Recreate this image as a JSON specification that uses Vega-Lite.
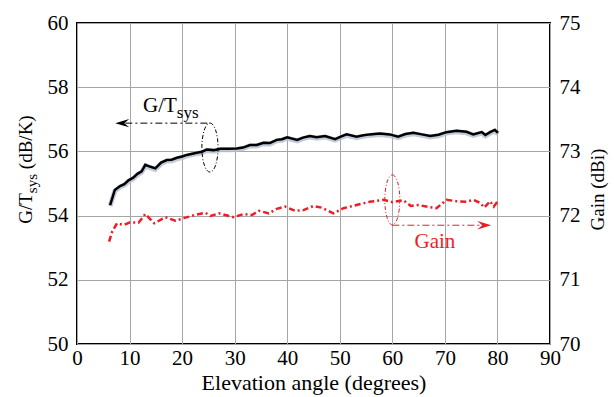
{
  "$schema": "https://vega.github.io/schema/vega-lite/v6.json",
  "width": 473,
  "height": 321,
  "autosize": "none",
  "padding": {"left": 77, "top": 23, "right": 64, "bottom": 53},
  "background": "white",
  "config": {
    "view": {"stroke": "black", "strokeWidth": 2},
    "font": "Liberation Serif",
    "axis": {"labelFont": "Liberation Serif", "titleFont": "Liberation Serif", "labelColor": "black", "titleColor": "black", "titleFontWeight": "normal", "gridColor": "#a6a6a6", "gridWidth": 1, "gridOpacity": 1}
  },
  "datasets": {
    "gt": [
      {"x": 6.3, "v": 54.33}, {"x": 7.2, "v": 54.8}, {"x": 8.2, "v": 54.92}, {"x": 9.0, "v": 54.98}, {"x": 9.8, "v": 55.1},
      {"x": 10.7, "v": 55.18}, {"x": 11.5, "v": 55.3}, {"x": 12.3, "v": 55.38}, {"x": 13.0, "v": 55.58}, {"x": 14.0, "v": 55.52},
      {"x": 14.9, "v": 55.47}, {"x": 16.0, "v": 55.65}, {"x": 17.1, "v": 55.73}, {"x": 18.0, "v": 55.74}, {"x": 19.0, "v": 55.8},
      {"x": 20.0, "v": 55.84}, {"x": 20.9, "v": 55.89}, {"x": 22.8, "v": 55.96}, {"x": 23.8, "v": 55.99}, {"x": 24.7, "v": 56.06},
      {"x": 26.0, "v": 56.04}, {"x": 27.3, "v": 56.08}, {"x": 28.8, "v": 56.08}, {"x": 30.4, "v": 56.09}, {"x": 31.6, "v": 56.12},
      {"x": 32.9, "v": 56.2}, {"x": 34.2, "v": 56.2}, {"x": 35.5, "v": 56.27}, {"x": 36.7, "v": 56.26}, {"x": 38.0, "v": 56.36},
      {"x": 39.0, "v": 56.38}, {"x": 40.0, "v": 56.44}, {"x": 41.9, "v": 56.36}, {"x": 43.0, "v": 56.43}, {"x": 44.3, "v": 56.48},
      {"x": 45.6, "v": 56.44}, {"x": 47.2, "v": 56.48}, {"x": 49.1, "v": 56.38}, {"x": 50.2, "v": 56.46}, {"x": 51.3, "v": 56.53},
      {"x": 53.2, "v": 56.46}, {"x": 54.5, "v": 56.5}, {"x": 55.7, "v": 56.53}, {"x": 57.6, "v": 56.56}, {"x": 59.5, "v": 56.53},
      {"x": 61.1, "v": 56.46}, {"x": 62.5, "v": 56.54}, {"x": 64.0, "v": 56.58}, {"x": 65.6, "v": 56.53}, {"x": 67.2, "v": 56.48},
      {"x": 68.8, "v": 56.52}, {"x": 70.3, "v": 56.6}, {"x": 72.2, "v": 56.64}, {"x": 74.1, "v": 56.61}, {"x": 75.4, "v": 56.53},
      {"x": 77.0, "v": 56.6}, {"x": 77.7, "v": 56.51}, {"x": 78.6, "v": 56.6}, {"x": 79.5, "v": 56.67}, {"x": 80.1, "v": 56.58}
    ],
    "gain": [
      {"x": 6.1, "g": 71.595}, {"x": 6.7, "g": 71.75}, {"x": 7.6, "g": 71.88}, {"x": 8.9, "g": 71.855}, {"x": 10.1, "g": 71.895},
      {"x": 11.7, "g": 71.89}, {"x": 13.0, "g": 72.025}, {"x": 14.7, "g": 71.88}, {"x": 16.8, "g": 71.975}, {"x": 18.7, "g": 71.92},
      {"x": 20.3, "g": 71.96}, {"x": 22.5, "g": 72.01}, {"x": 24.4, "g": 72.045}, {"x": 25.4, "g": 71.995}, {"x": 27.0, "g": 72.035},
      {"x": 29.8, "g": 71.975}, {"x": 31.7, "g": 72.025}, {"x": 33.3, "g": 72.01}, {"x": 34.6, "g": 72.075}, {"x": 36.5, "g": 72.035},
      {"x": 38.0, "g": 72.105}, {"x": 39.6, "g": 72.14}, {"x": 41.5, "g": 72.075}, {"x": 43.1, "g": 72.085}, {"x": 45.0, "g": 72.15},
      {"x": 46.5, "g": 72.125}, {"x": 48.8, "g": 72.035}, {"x": 50.7, "g": 72.115}, {"x": 53.2, "g": 72.165}, {"x": 55.7, "g": 72.215},
      {"x": 58.3, "g": 72.245}, {"x": 60.0, "g": 72.21}, {"x": 62.1, "g": 72.24}, {"x": 63.5, "g": 72.15}, {"x": 65.0, "g": 72.165},
      {"x": 66.8, "g": 72.135}, {"x": 68.4, "g": 72.115}, {"x": 70.3, "g": 72.245}, {"x": 72.2, "g": 72.225}, {"x": 74.1, "g": 72.215},
      {"x": 75.4, "g": 72.245}, {"x": 76.7, "g": 72.2}, {"x": 77.5, "g": 72.125}, {"x": 78.6, "g": 72.225}, {"x": 79.3, "g": 72.14},
      {"x": 80.0, "g": 72.215}
    ]
  },
  "layer": [
    {
      "layer": [
        {
          "data": {"name": "gt"},
          "mark": {"type": "line", "stroke": "#b4bdd0", "strokeWidth": 5, "yOffset": 1, "opacity": 0.8},
          "encoding": {
            "x": {"field": "x", "type": "quantitative", "scale": {"domain": [0, 90]}, "title": "Elevation angle (degrees)",
              "axis": {"values": [0, 10, 20, 30, 40, 50, 60, 70, 80, 90], "format": "d", "grid": true, "ticks": false, "domain": false, "labelFont": "Liberation Serif", "titleFont": "Liberation Serif", "labelFontSize": 21, "labelPadding": 3, "titleFontSize": 22, "titlePadding": 4, "labelFlush": false}},
            "y": {"field": "v", "type": "quantitative", "scale": {"domain": [50, 60]}, "title": null,
              "axis": {"values": [50, 51, 52, 53, 54, 55, 56, 57, 58, 59, 60], "format": "d", "labelExpr": "datum.value % 2 === 0 ? datum.label : ''", "grid": true, "ticks": false, "domain": false, "labelFont": "Liberation Serif", "labelFontSize": 21, "labelPadding": 9, "labelFlush": false}}
          }
        },
        {
          "data": {"name": "gt"},
          "mark": {"type": "line", "stroke": "black", "strokeWidth": 2.5},
          "encoding": {
            "x": {"field": "x", "type": "quantitative"},
            "y": {"field": "v", "type": "quantitative"}
          }
        },
        {
          "data": {"values": [{"x": 25.3, "v": 56.12}]},
          "mark": {"type": "point", "shape": "M0,-1 A0.33,1 0 1,1 0,1 A0.33,1 0 1,1 0,-1 Z", "size": 2401, "filled": false, "stroke": "black", "strokeWidth": 1, "strokeDash": [4, 2, 1, 2], "opacity": 1},
          "encoding": {
            "x": {"field": "x", "type": "quantitative"},
            "y": {"field": "v", "type": "quantitative"}
          }
        },
        {
          "data": {"values": [{"x": 9.2, "x2": 25.2, "v": 56.88}]},
          "mark": {"type": "rule", "stroke": "black", "strokeWidth": 1, "strokeDash": [7, 3, 2, 3]},
          "encoding": {
            "x": {"field": "x", "type": "quantitative"},
            "x2": {"field": "x2"},
            "y": {"field": "v", "type": "quantitative"}
          }
        },
        {
          "data": {"values": [{"x": 8.6, "v": 56.88}]},
          "mark": {"type": "point", "shape": "M-1,0 L1,-0.6 L0.3,0 L1,0.6 Z", "size": 196, "filled": true, "fill": "black", "opacity": 1},
          "encoding": {
            "x": {"field": "x", "type": "quantitative"},
            "y": {"field": "v", "type": "quantitative"}
          }
        },
        {
          "data": {"values": [{"x": 19.0, "v": 57.23, "label": "G/T"}]},
          "mark": {"type": "text", "align": "right", "baseline": "alphabetic", "fontSize": 21, "fill": "black"},
          "encoding": {
            "x": {"field": "x", "type": "quantitative"},
            "y": {"field": "v", "type": "quantitative"},
            "text": {"field": "label"}
          }
        },
        {
          "data": {"values": [{"x": 19.0, "v": 57.23, "label": "sys"}]},
          "mark": {"type": "text", "align": "left", "baseline": "alphabetic", "fontSize": 17, "dy": 6, "fill": "black"},
          "encoding": {
            "x": {"field": "x", "type": "quantitative"},
            "y": {"field": "v", "type": "quantitative"},
            "text": {"field": "label"}
          }
        },
        {
          "data": {"values": [{"x": -8.6, "v": 54.7, "label": "G/T"}]},
          "mark": {"type": "text", "angle": 270, "align": "right", "baseline": "alphabetic", "fontSize": 19, "fill": "black"},
          "encoding": {
            "x": {"field": "x", "type": "quantitative"},
            "y": {"field": "v", "type": "quantitative"},
            "text": {"field": "label"}
          }
        },
        {
          "data": {"values": [{"x": -8.6, "v": 54.7, "label": "sys"}]},
          "mark": {"type": "text", "angle": 270, "align": "left", "baseline": "alphabetic", "fontSize": 15, "dy": 5, "fill": "black"},
          "encoding": {
            "x": {"field": "x", "type": "quantitative"},
            "y": {"field": "v", "type": "quantitative"},
            "text": {"field": "label"}
          }
        },
        {
          "data": {"values": [{"x": -8.6, "v": 54.7, "label": "(dB/K)"}]},
          "mark": {"type": "text", "angle": 270, "align": "left", "baseline": "alphabetic", "fontSize": 19, "dx": 24, "fill": "black"},
          "encoding": {
            "x": {"field": "x", "type": "quantitative"},
            "y": {"field": "v", "type": "quantitative"},
            "text": {"field": "label"}
          }
        }
      ]
    },
    {
      "layer": [
        {
          "data": {"name": "gain"},
          "mark": {"type": "line", "stroke": "#ee1c25", "strokeWidth": 2.5, "strokeDash": [6, 3, 2, 3]},
          "encoding": {
            "x": {"field": "x", "type": "quantitative"},
            "y": {"field": "g", "type": "quantitative", "scale": {"domain": [70, 75]}, "title": "Gain (dBi)",
              "axis": {"orient": "right", "values": [70, 71, 72, 73, 74, 75], "format": "d", "grid": false, "ticks": false, "domain": false, "labelFont": "Liberation Serif", "titleFont": "Liberation Serif", "labelFontSize": 21, "labelPadding": 9, "labelFlush": false, "titleFontSize": 19, "titleAngle": 270, "titleBaseline": "alphabetic", "titleX": 53, "titleY": 166}}
          }
        },
        {
          "data": {"values": [{"x": 60.0, "g": 72.245}]},
          "mark": {"type": "point", "shape": "M0,-1 A0.3,1 0 1,1 0,1 A0.3,1 0 1,1 0,-1 Z", "size": 2500, "filled": false, "stroke": "#ee1c25", "strokeWidth": 1, "strokeDash": [4, 2, 1, 2], "opacity": 1},
          "encoding": {
            "x": {"field": "x", "type": "quantitative"},
            "y": {"field": "g", "type": "quantitative"}
          }
        },
        {
          "data": {"values": [{"x": 60.0, "x2": 77.0, "g": 71.85}]},
          "mark": {"type": "rule", "stroke": "#ee1c25", "strokeWidth": 1, "strokeDash": [7, 3, 2, 3]},
          "encoding": {
            "x": {"field": "x", "type": "quantitative"},
            "x2": {"field": "x2"},
            "y": {"field": "g", "type": "quantitative"}
          }
        },
        {
          "data": {"values": [{"x": 77.5, "g": 71.85}]},
          "mark": {"type": "point", "shape": "M1,0 L-1,-0.6 L-0.3,0 L-1,0.6 Z", "size": 196, "filled": true, "fill": "#ee1c25", "opacity": 1},
          "encoding": {
            "x": {"field": "x", "type": "quantitative"},
            "y": {"field": "g", "type": "quantitative"}
          }
        },
        {
          "data": {"values": [{"x": 68.1, "g": 71.495, "label": "Gain"}]},
          "mark": {"type": "text", "align": "center", "baseline": "alphabetic", "fontSize": 21, "fill": "#ee1c25"},
          "encoding": {
            "x": {"field": "x", "type": "quantitative"},
            "y": {"field": "g", "type": "quantitative"},
            "text": {"field": "label"}
          }
        }
      ]
    }
  ],
  "resolve": {"scale": {"y": "independent"}}
}
